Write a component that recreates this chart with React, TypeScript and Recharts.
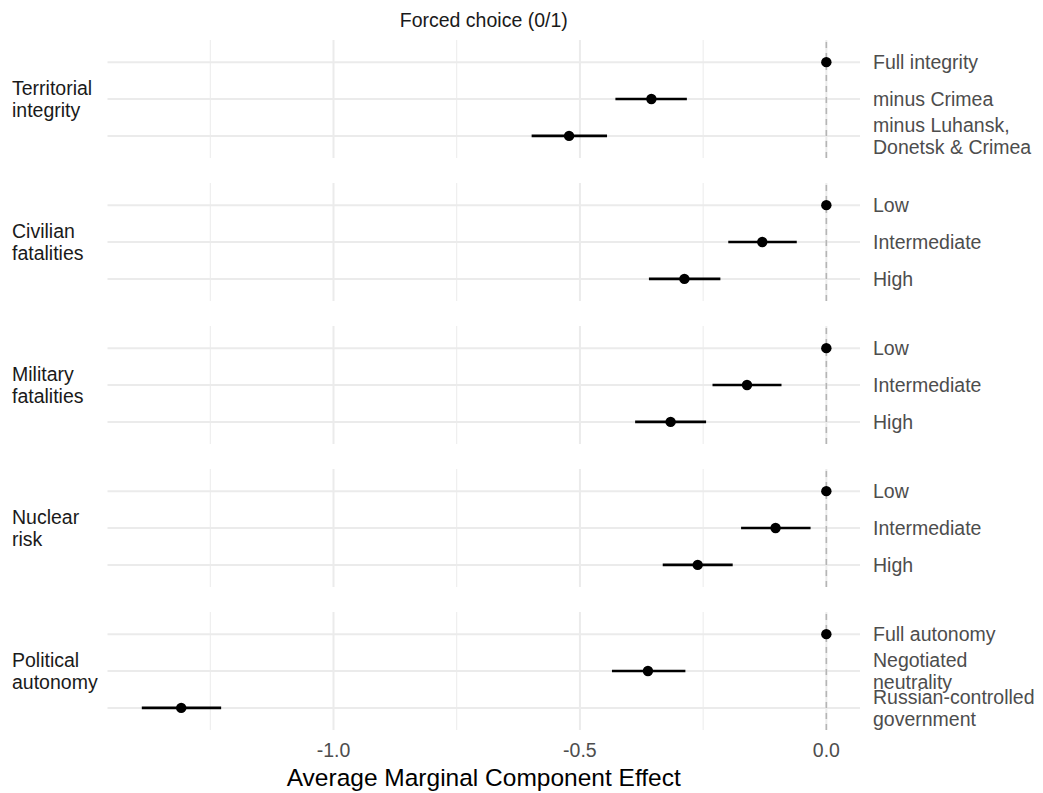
import React from "react";
import { ScatterChart, Scatter, XAxis, YAxis, ReferenceLine } from "recharts";

const stripTitle = "Forced choice (0/1)";
const axisTitle = "Average Marginal Component Effect";
const attributeNames: string[][] = [
  ["Territorial", "integrity"],
  ["Civilian", "fatalities"],
  ["Military", "fatalities"],
  ["Nuclear", "risk"],
  ["Political", "autonomy"],
];
const levelLabels: string[][][] = [
  [["Full integrity"], ["minus Crimea"], ["minus Luhansk,", "Donetsk & Crimea"]],
  [["Low"], ["Intermediate"], ["High"]],
  [["Low"], ["Intermediate"], ["High"]],
  [["Low"], ["Intermediate"], ["High"]],
  [["Full autonomy"], ["Negotiated", "neutrality"], ["Russian-controlled", "government"]],
];
const estimates: number[][] = [
  [0, -0.355, -0.522],
  [0, -0.13, -0.288],
  [0, -0.161, -0.316],
  [0, -0.103, -0.261],
  [0, -0.362, -1.309],
];
const lowers: number[][] = [
  [0, -0.428, -0.598],
  [0, -0.199, -0.36],
  [0, -0.231, -0.388],
  [0, -0.173, -0.332],
  [0, -0.435, -1.389],
];
const uppers: number[][] = [
  [0, -0.283, -0.445],
  [0, -0.06, -0.215],
  [0, -0.091, -0.244],
  [0, -0.032, -0.19],
  [0, -0.286, -1.228],
];
const xTicks = [-1, -0.5, 0];
const gridMajor = [-1, -0.5, 0];
const gridMinor = [-1.25, -0.75, -0.25];
const xDomain: [number, number] = [-1.4586, 0.0683];

const FONT = "'Liberation Sans', Arial, Helvetica, sans-serif";
const W = 1043;
const PANEL_H = 118;
const PANEL_STEP = 143;
const PANEL_TOP0 = 40;
const PLOT_LEFT = 107.5;
const Y_AXIS_W = 170;
const RIGHT_MARGIN = 13;
const LINE_H = 21.6;
const LABEL_FS = 19.5;

const LevelTick = (panel: number) => (props: any) => {
  const { x, y, payload } = props;
  const lines = levelLabels[panel][Math.round(payload.value) - 1] || [];
  const n = lines.length;
  return (
    <g>
      {lines.map((ln, i) => (
        <text
          key={i}
          x={x}
          y={y + (i - (n - 1) / 2) * LINE_H + 7}
          textAnchor="start"
          fill="#4d4d4d"
          fontSize={LABEL_FS}
          fontFamily={FONT}
        >
          {ln}
        </text>
      ))}
    </g>
  );
};

const XTick = (props: any) => {
  const { x, y, payload } = props;
  return (
    <text x={x} y={y + 15} textAnchor="middle" fill="#4d4d4d" fontSize={LABEL_FS} fontFamily={FONT}>
      {payload.value.toFixed(1)}
    </text>
  );
};

const Dot = (props: any) => <circle cx={props.cx} cy={props.cy} r={5.2} fill="#000" />;

function Panel({ p }: { p: number }) {
  const isLast = p === estimates.length - 1;
  const rows = estimates[p].map((v, i) => ({ x: v, y: i + 1 }));
  const axisH = isLast ? 40 : 0;
  return (
    <div style={{ position: "absolute", left: 0, top: PANEL_TOP0 + p * PANEL_STEP }}>
      <ScatterChart
        width={W}
        height={PANEL_H + axisH}
        margin={{ top: 0, bottom: 0, left: PLOT_LEFT, right: RIGHT_MARGIN }}
      >
        <XAxis
          type="number"
          dataKey="x"
          domain={xDomain}
          allowDataOverflow
          ticks={xTicks}
          interval={0}
          hide={!isLast}
          height={axisH}
          tickLine={false}
          axisLine={false}
          tickSize={0}
          tickMargin={12}
          tick={XTick}
        />
        <YAxis
          type="number"
          dataKey="y"
          orientation="right"
          domain={[0.4, 3.6]}
          reversed
          allowDataOverflow
          ticks={[1, 2, 3]}
          interval={0}
          width={Y_AXIS_W}
          tickLine={false}
          axisLine={false}
          tickSize={0}
          tickMargin={13}
          tick={LevelTick(p)}
        />
        {gridMinor.map((v) => (
          <ReferenceLine key={"mn" + v} x={v} stroke="#ebebeb" strokeWidth={1} />
        ))}
        {gridMajor.map((v) => (
          <ReferenceLine key={"mj" + v} x={v} stroke="#ebebeb" strokeWidth={2} />
        ))}
        {rows.map((r) => (
          <ReferenceLine key={"h" + r.y} y={r.y} stroke="#ebebeb" strokeWidth={2} />
        ))}
        <ReferenceLine x={0} stroke="#b5b5b5" strokeWidth={1.6} strokeDasharray="6 5" />
        {rows.map((r, i) =>
          lowers[p][i] !== uppers[p][i] ? (
            <ReferenceLine
              key={"e" + i}
              segment={[
                { x: lowers[p][i], y: r.y },
                { x: uppers[p][i], y: r.y },
              ]}
              stroke="#000"
              strokeWidth={2.6}
            />
          ) : null
        )}
        <Scatter data={rows} shape={Dot} isAnimationActive={false} />
      </ScatterChart>
    </div>
  );
}

export default function App() {
  const cx = (PLOT_LEFT + (W - RIGHT_MARGIN - Y_AXIS_W)) / 2;
  return (
    <div style={{ position: "absolute", left: 0, top: 0, width: W, height: 793, background: "#fff" }}>
      <svg width={W} height={793} style={{ position: "absolute", left: 0, top: 0 }}>
        <text x={cx} y={27} textAnchor="middle" fill="#1a1a1a" fontSize={19.5} fontFamily={FONT}>
          {stripTitle}
        </text>
        {attributeNames.map((lines, p) => {
          const cy = PANEL_TOP0 + p * PANEL_STEP + PANEL_H / 2;
          return lines.map((ln, i) => (
            <text
              key={p + "-" + i}
              x={12}
              y={cy + (i - (lines.length - 1) / 2) * LINE_H + 7}
              fill="#1a1a1a"
              fontSize={LABEL_FS}
              fontFamily={FONT}
            >
              {ln}
            </text>
          ));
        })}
        <text x={cx} y={786} textAnchor="middle" fill="#000" fontSize={24.5} fontFamily={FONT}>
          {axisTitle}
        </text>
      </svg>
      {estimates.map((_, p) => (
        <Panel key={p} p={p} />
      ))}
    </div>
  );
}
